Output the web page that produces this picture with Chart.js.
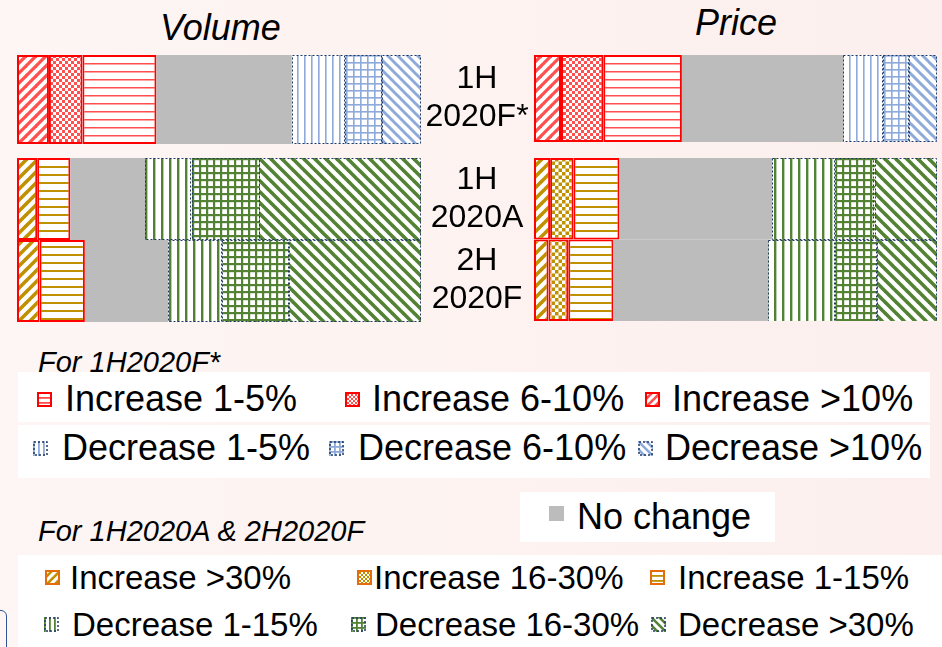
<!DOCTYPE html>
<html>
<head>
<meta charset="utf-8">
<script src="https://cdn.jsdelivr.net/npm/chart.js@4.4.1/dist/chart.umd.min.js"></script>
<style>
  html, body { margin:0; padding:0; }
  body { width:942px; height:647px; position:relative; overflow:hidden;
         background: linear-gradient(90deg, #fdf6f4 0%, #fdf2f0 60%, #fcefed 100%);
         font-family: "Liberation Sans", Arial, sans-serif; color:#000; }
  .abs { position:absolute; white-space:nowrap; line-height:1; }
  canvas.chart { position:absolute; }
  .box { position:absolute; background:#fff; }
  .title { font-style:italic; font-size:36px; }
  .sub { font-style:italic; font-size:29px; }
  .g1 { font-size:36px; }
  .g2 { font-size:33px; }
  canvas.icon { position:absolute; }
</style>
</head>
<body>
<script>
// ---------------- DATA ----------------
const rowLabels = [['1H', '2020F*'], ['1H', '2020A'], ['2H', '2020F']];
const seriesNames = ['Increase high', 'Increase mid', 'Increase low', 'No change', 'Decrease low', 'Decrease mid', 'Decrease high'];

// Volume (% of respondents), rows: 1H 2020F*, 1H 2020A, 2H 2020F
const volIncHigh  = [7.9, 5.0, 5.6];
const volIncMid   = [8.3, 0, 0];
const volIncLow   = [18.3, 8.2, 11.2];
const volNoChange = [33.5, 18.5, 20.6];
const volDecLow   = [13.1, 11.5, 13.4];
const volDecMid   = [9.2, 16.8, 16.6];
const volDecHigh  = [9.6, 40.0, 32.6];

// Price
const prcIncHigh  = [6.7, 4.0, 3.6];
const prcIncMid   = [10.5, 5.8, 4.9];
const prcIncLow   = [19.5, 11.4, 11.2];
const prcNoChange = [40.0, 37.9, 38.4];
const prcDecLow   = [9.9, 15.7, 16.7];
const prcDecMid   = [6.5, 9.8, 10.4];
const prcDecHigh  = [6.9, 15.5, 14.8];

const legendF = ['Increase 1-5%', 'Increase 6-10%', 'Increase >10%', 'Decrease 1-5%', 'Decrease 6-10%', 'Decrease >10%'];
const legendA = ['Increase >30%', 'Increase 16-30%', 'Increase 1-15%', 'Decrease 1-15%', 'Decrease 16-30%', 'Decrease >30%'];
const noChangeLabel = 'No change';

// ---------------- STYLE ----------------
const RED = '#ff4f4f', BLUE = '#8eaadb', GOLD = '#bf9000', GREEN = '#548235', GRAY = '#bcbcbc';
const RED_BORDER = '#ff0000', NAVY = '#203864';
const FONT = '"Liberation Sans", Arial, sans-serif';

function tile(type, color, size, lw) {
  const c = document.createElement('canvas');
  c.width = c.height = size;
  const g = c.getContext('2d');
  g.fillStyle = '#fff'; g.fillRect(0, 0, size, size);
  g.fillStyle = color; g.strokeStyle = color; g.lineWidth = lw; g.lineCap = 'square';
  if (type === 'hline') g.fillRect(0, 0, size, lw);
  else if (type === 'vline') g.fillRect(0, 0, lw, size);
  else if (type === 'grid') { g.fillRect(0, 0, size, lw); g.fillRect(0, 0, lw, size); }
  else if (type === 'checker') { const h = size / 2; g.fillRect(0, 0, h, h); g.fillRect(h, h, h, h); }
  else if (type === 'up') {
    for (const o of [-size, 0, size]) { g.beginPath(); g.moveTo(o - size, 2 * size); g.lineTo(o + 2 * size, -size); g.stroke(); }
  } else if (type === 'down') {
    for (const o of [-size, 0, size]) { g.beginPath(); g.moveTo(o - size, -size); g.lineTo(o + 2 * size, 2 * size); g.stroke(); }
  }
  return c;
}
function pat(type, color, size, lw) {
  const tmp = document.createElement('canvas').getContext('2d');
  return tmp.createPattern(tile(type, color, size, lw), 'repeat');
}
const palF = [pat('up', RED, 10, 3.2), pat('checker', RED, 6, 0), pat('hline', RED, 8, 1.5), GRAY,
              pat('vline', BLUE, 7, 1.6), pat('grid', BLUE, 7, 1.6), pat('down', BLUE, 10, 3)];
const palA = [pat('up', GOLD, 11, 3.6), pat('checker', GOLD, 7, 0), pat('hline', GOLD, 8, 2), GRAY,
              pat('vline', GREEN, 8, 2.4), pat('grid', GREEN, 7, 2.2), pat('down', GREEN, 11, 3.6)];

const dashPlugin = {
  id: 'dashBorders',
  afterDatasetsDraw(chart) {
    const ctx = chart.ctx;
    chart.data.datasets.forEach((ds, i) => {
      if (!ds.dashed) return;
      chart.getDatasetMeta(i).data.forEach((el, j) => {
        if (!ds.data[j]) return;
        const p = el.getProps(['x', 'y', 'base', 'height'], true);
        const l = Math.min(p.x, p.base), r = Math.max(p.x, p.base);
        ctx.save();
        ctx.strokeStyle = NAVY; ctx.lineWidth = 1; ctx.setLineDash([2, 2]);
        ctx.strokeRect(Math.round(l) + 0.5, Math.round(p.y - p.height / 2) + 0.5,
                       Math.round(r - l) - 1, Math.round(p.height) - 1);
        ctx.restore();
      });
    });
  }
};

// draws the category labels (two lines, centred) to the left of the plot area, at the y-scale positions
const rowLabelPlugin = {
  id: 'rowLabels',
  afterDraw(chart, args, opts) {
    if (!opts.show) return;
    const ctx = chart.ctx, ys = chart.scales.y;
    const cx = chart.chartArea.left - opts.offset;
    ctx.save();
    ctx.fillStyle = '#000';
    ctx.font = opts.size + 'px ' + FONT;
    ctx.textAlign = 'center';
    ctx.textBaseline = 'middle';
    chart.data.labels.forEach((lab, i) => {
      const yc = ys.getPixelForValue(i);
      const n = lab.length;
      lab.forEach((line, k) => {
        ctx.fillText(line, cx, yc + (k - (n - 1) / 2) * opts.lineGap);
      });
    });
    ctx.restore();
  }
};

function addCanvas(left, top, w, h) {
  const c = document.createElement('canvas');
  c.className = 'chart'; c.width = w; c.height = h;
  c.style.left = left + 'px'; c.style.top = top + 'px';
  c.style.width = w + 'px'; c.style.height = h + 'px';
  document.body.appendChild(c);
  return c;
}

function makeChart(canvas, rows, series, palette, showLabels) {
  const labels = rows.map(r => rowLabels[r]);
  const datasets = series.map((arr, i) => {
    const isInc = i < 3, isDec = i > 3;
    return {
      label: seriesNames[i],
      data: rows.map(r => arr[r]),
      backgroundColor: palette[i],
      borderColor: isInc ? RED_BORDER : 'rgba(0,0,0,0)',
      borderWidth: (c) => (isInc && c.raw > 0 ? 2 : 0),
      borderSkipped: false,
      inflateAmount: 0,
      barPercentage: 1,
      categoryPercentage: 1,
      dashed: isDec
    };
  });
  return new Chart(canvas, {
    type: 'bar',
    data: { labels, datasets },
    options: {
      indexAxis: 'y',
      responsive: false,
      animation: false,
      devicePixelRatio: 1,
      layout: { padding: { left: showLabels ? 112 : 0, right: 0, top: 0, bottom: 0 } },
      scales: {
        x: { stacked: true, min: 0, max: 100, display: false },
        y: { stacked: true, display: false }
      },
      plugins: {
        legend: { display: false }, tooltip: { enabled: false },
        rowLabels: { show: showLabels, offset: 57, size: 32, lineGap: 38 }
      }
    },
    plugins: [dashPlugin, rowLabelPlugin]
  });
}

const volSeries = [volIncHigh, volIncMid, volIncLow, volNoChange, volDecLow, volDecMid, volDecHigh];
const prcSeries = [prcIncHigh, prcIncMid, prcIncLow, prcNoChange, prcDecLow, prcDecMid, prcDecHigh];

makeChart(addCanvas(17, 55, 404, 89), [0], volSeries, palF, false);
makeChart(addCanvas(17, 158, 404, 164), [1, 2], volSeries, palA, false);
makeChart(addCanvas(422, 55, 515, 87), [0], prcSeries, palF, true);
makeChart(addCanvas(422, 158, 515, 163), [1, 2], prcSeries, palA, true);

// ---------------- TEXT & LEGENDS ----------------
function addDiv(cls, text, left, top) {
  const d = document.createElement('div');
  d.className = 'abs ' + cls; d.textContent = text;
  d.style.left = left + 'px'; d.style.top = top + 'px';
  document.body.appendChild(d);
  return d;
}
function addBox(l, t, w, h) {
  const d = document.createElement('div');
  d.className = 'box';
  Object.assign(d.style, { left: l + 'px', top: t + 'px', width: w + 'px', height: h + 'px' });
  document.body.appendChild(d);
}
function addIcon(left, top, fill, border, dashed) {
  const c = document.createElement('canvas');
  c.className = 'icon'; c.width = 15; c.height = 15;
  c.style.left = left + 'px'; c.style.top = top + 'px';
  const g = c.getContext('2d');
  g.fillStyle = fill; g.fillRect(0, 0, 15, 15);
  if (border) {
    g.strokeStyle = border; g.lineWidth = dashed ? 1.5 : 2;
    if (dashed) g.setLineDash([2, 2]);
    g.strokeRect(1, 1, 13, 13);
  }
  document.body.appendChild(c);
}

addDiv('title', 'Volume', 160, 10);
addDiv('title', 'Price', 695, 5);

// group 1
addDiv('sub', 'For 1H2020F*', 38, 348);
addBox(18, 372, 912, 50);
addBox(18, 425, 912, 53);
const g1x = [[37, 65], [345, 372], [645, 672]];
const g1x2 = [[33, 62], [329, 358], [638, 665]];
const iconF = [pat('hline', RED, 5, 1.8), pat('checker', RED, 4, 0), pat('up', RED, 8, 2.6),
               pat('vline', BLUE, 5, 1.8), pat('grid', BLUE, 5, 1.8), pat('down', BLUE, 8, 2.6)];
for (let i = 0; i < 3; i++) {
  addIcon(g1x[i][0], 392, iconF[i], RED_BORDER, false);
  addDiv('g1', legendF[i], g1x[i][1], 381);
  addIcon(g1x2[i][0], 441, iconF[i + 3], NAVY, true);
  addDiv('g1', legendF[i + 3], g1x2[i][1], 430);
}

// no change
addBox(520, 492, 255, 50);
addIcon(549, 506, GRAY, null, false);
addDiv('g1', noChangeLabel, 577, 499);

// group 2
addDiv('sub', 'For 1H2020A & 2H2020F', 38, 517);
addBox(18, 555, 924, 92);
const g2x = [[45, 70], [357, 374], [650, 678]];
const g2x2 = [[44, 72], [351, 375], [651, 678]];
const iconA = [pat('up', GOLD, 8, 2.6), pat('checker', GOLD, 4, 0), pat('hline', GOLD, 5, 1.8),
               pat('vline', GREEN, 5, 1.8), pat('grid', GREEN, 5, 1.8), pat('down', GREEN, 8, 2.6)];
for (let i = 0; i < 3; i++) {
  addIcon(g2x[i][0], 570, iconA[i], '#e46c0a', false);
  addDiv('g2', legendA[i], g2x[i][1], 561);
  addIcon(g2x2[i][0], 617, iconA[i + 3], NAVY, true);
  addDiv('g2', legendA[i + 3], g2x2[i][1], 608);
}

// partial rounded frame at bottom-left
const frame = document.createElement('div');
Object.assign(frame.style, { position: 'absolute', left: '-30px', top: '610px', width: '35px', height: '60px',
  border: '1.5px solid #2f5597', borderRadius: '6px' });
document.body.appendChild(frame);
</script>
</body>
</html>
